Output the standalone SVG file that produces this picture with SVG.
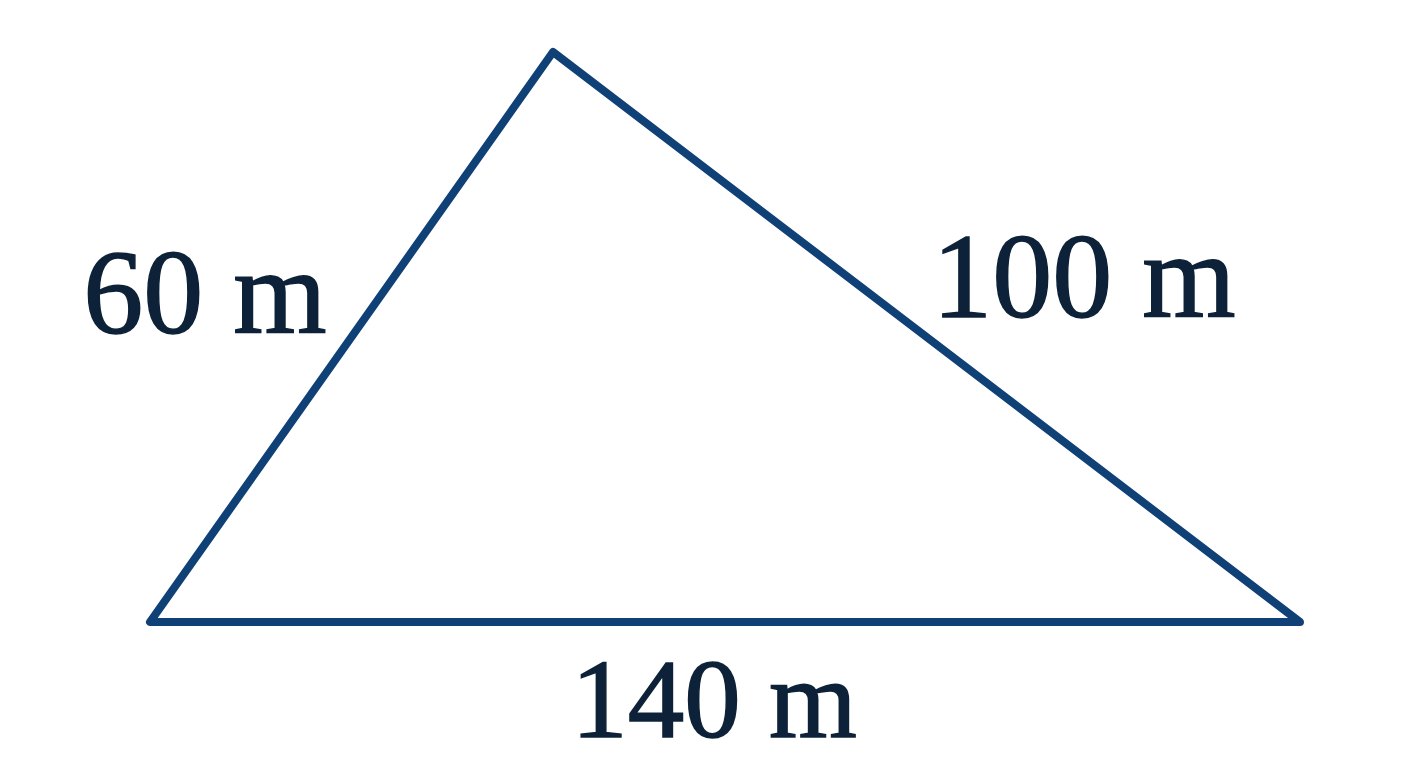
<svg xmlns="http://www.w3.org/2000/svg" width="1408" height="768" viewBox="0 0 1408 768">
<style>
.edge{fill:none;stroke:#0f4076;stroke-width:8;stroke-linejoin:round;stroke-linecap:round}
.lbl{font-family:"Liberation Serif","DejaVu Serif",serif;font-size:120px;fill:#0d2238;stroke:#0d2238;stroke-width:1.5;text-anchor:middle}
</style>
<rect width="1408" height="768" fill="#ffffff"/>
<g id="connectors">
<polygon class="edge" points="553,52 150,622 1300,622"/>
</g>
<g id="label-60"><text class="lbl" x="205" y="333">60 m</text></g>
<g id="label-100"><text class="lbl" x="1084" y="317">100 m</text></g>
<g id="label-140"><text class="lbl" x="714" y="737" style="font-size:113px">140 m</text></g>
</svg>
